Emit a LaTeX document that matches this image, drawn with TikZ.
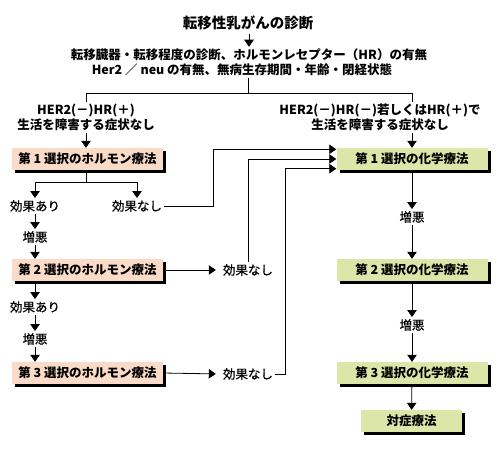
\documentclass[tikz,border=0pt]{standalone}
\usepackage{fontspec}
\setmainfont{Noto Sans CJK JP}
\newfontfamily\medfont{Noto Sans CJK JP}[FakeBold=0.6]
\usetikzlibrary{arrows.meta,shadows}
\definecolor{peach}{HTML}{FADBC8}
\definecolor{leaf}{HTML}{DCE6A8}
\begin{document}
\begin{tikzpicture}[x=1pt,y=-1pt,
  line/.style={draw=black,line width=0.8pt},
  arr/.style={line,-{Triangle[width=9.5pt,length=7pt]}},
  hbox/.style={fill=peach,minimum width=151pt,minimum height=22pt,inner sep=0pt,
    font=\bfseries\fontsize{12.5}{14}\selectfont,
    drop shadow={shadow xshift=3pt,shadow yshift=-3pt,fill=black,opacity=1}},
  cbox/.style={hbox,fill=leaf},
  txt/.style={font=\medfont\fontsize{12.5}{14}\selectfont,inner sep=2pt},
  btxt/.style={font=\bfseries\fontsize{12.5}{15}\selectfont,inner sep=2pt,align=center}]
\useasboundingbox (0,0) rectangle (500,450);
% header
\node[font=\bfseries\fontsize{14.5}{16}\selectfont] (title) at (248,23) {転移性乳がんの診断};
\node[btxt] (info1) at (249,55) {転移臓器・転移程度の診断、ホルモンレセプター（HR）の有無};
\node[btxt] (info2) at (242,70) {Her2 ／ neu の有無、無病生存期間・年齢・閉経状態};
\draw[arr] (title.south -| info1) -- (info1.north);
\coordinate (b0) at (248,93);
\coordinate (bl) at (86,93);
\coordinate (br) at (412,93);
\draw[line] (b0 |- info2.south) -- (b0);
\draw[line] (bl) -- (br);
\node[btxt] (lab1) at (86,117.5) {HER2(－)HR(＋)\\生活を障害する症状なし};
\node[btxt] (lab2) at (380,117.5) {HER2(－)HR(－)若しくはHR(＋)で\\生活を障害する症状なし};
\draw[line] (bl) -- (bl |- lab1.north);
\draw[line] (br) -- (br |- lab2.north);
% boxes
\node[hbox] (h1) at (87.5,159) {第 1 選択のホルモン療法};
\node[hbox] (h2) at (87.5,270) {第 2 選択のホルモン療法};
\node[hbox] (h3) at (87.5,373) {第 3 選択のホルモン療法};
\node[cbox] (c1) at (412,159) {第 1 選択の化学療法};
\node[cbox] (c2) at (412,270) {第 2 選択の化学療法};
\node[cbox] (c3) at (412,373) {第 3 選択の化学療法};
\node[cbox,minimum width=101pt] (t) at (411.5,421) {対症療法};
\draw[arr] (bl |- lab1.south) -- (bl |- h1.north);
\draw[arr] (br |- lab2.south) -- (br |- c1.north);
% left column
\coordinate (s1) at (86,182);
\node[txt] (ea1) at (35,206) {効果あり};
\node[txt] (en1) at (137,206) {効果なし};
\node[txt] (zl1) at (35,237) {増悪};
\draw[line] (s1 |- h1.south) -- (s1);
\draw[arr] (s1) -| (ea1.north);
\draw[arr] (s1) -| (en1.north);
\draw[arr] (ea1) -- (zl1);
\draw[arr] (zl1) -- (zl1 |- h2.north);
\node[txt] (en2) at (248,270) {効果なし};
\draw[arr,shorten >=5pt] (h2.east) -- (en2.west);
\node[txt] (ea2) at (35,307) {効果あり};
\node[txt] (zl2) at (35,339) {増悪};
\draw[arr] (ea2 |- h2.south) -- (ea2);
\draw[arr] (ea2) -- (zl2);
\draw[arr] (zl2) -- (zl2 |- h3.north);
\node[txt] (en3) at (248,374) {効果なし};
\draw[arr,shorten >=5pt] (h3.east) -- (en3.west);
% connectors into first chemotherapy
\coordinate (in1) at ([yshift=-1.5pt]c1.north west);
\coordinate (in2) at (c1.west);
\coordinate (in3) at ([yshift=1.5pt]c1.south west);
\coordinate (k1) at (213,0);
\coordinate (k3) at (285,0);
\draw[arr] (en1.east) -- (en1.east -| k1) |- (in1);
\draw[arr] (en2.north) |- (in2);
\draw[arr] (en3.east) -- (en3.east -| k3) |- (in3);
% right column
\node[txt] (zr1) at (412,217) {増悪};
\node[txt] (zr2) at (412,325) {増悪};
\draw[arr] (c1) -- (zr1);
\draw[arr] (zr1) -- (c2);
\draw[arr] (c2) -- (zr2);
\draw[arr] (zr2) -- (c3);
\draw[arr] (c3) -- (t);
\end{tikzpicture}
\end{document}
